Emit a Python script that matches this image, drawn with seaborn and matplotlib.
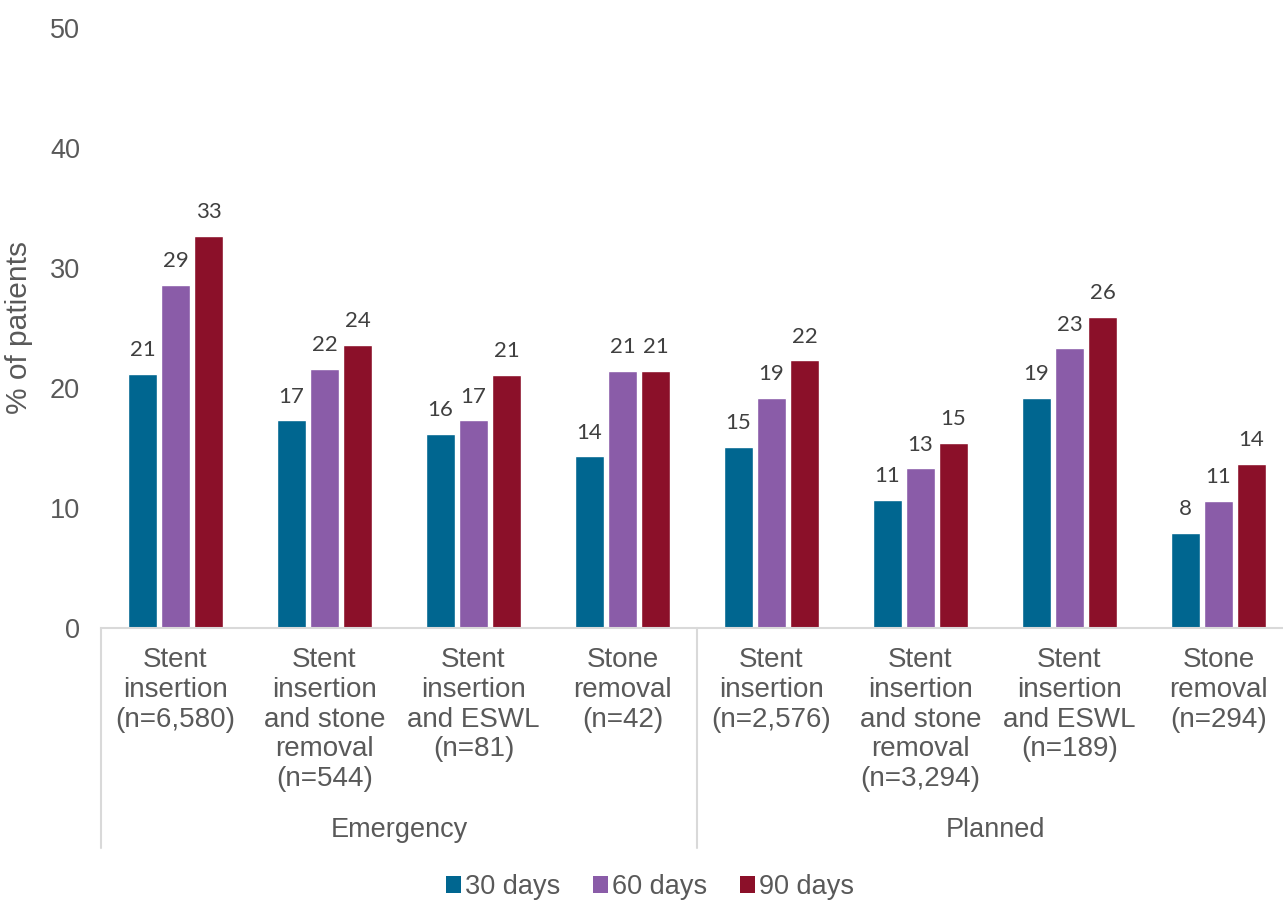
import matplotlib
matplotlib.use("Agg")
import matplotlib.pyplot as plt
import seaborn as sns
import pandas as pd
from matplotlib.patches import Patch

categories = [
    "Stent\ninsertion\n(n=6,580)",
    "Stent\ninsertion\nand stone\nremoval\n(n=544)",
    "Stent\ninsertion\nand ESWL\n(n=81)",
    "Stone\nremoval\n(n=42)",
    "Stent\ninsertion\n(n=2,576)",
    "Stent\ninsertion\nand stone\nremoval\n(n=3,294)",
    "Stent\ninsertion\nand ESWL\n(n=189)",
    "Stone\nremoval\n(n=294)",
]
groups = ["Emergency", "Planned"]
series = ["30 days", "60 days", "90 days"]
d30 = [21.2, 17.3, 16.2, 14.3, 15.1, 10.7, 19.2, 7.9]
d60 = [28.6, 21.6, 17.3, 21.4, 19.2, 13.3, 23.3, 10.6]
d90 = [32.7, 23.6, 21.1, 21.4, 22.3, 15.4, 25.9, 13.7]
colors = ["#006690", "#8A5CA8", "#8B1029"]

rows = []
for s, vals in zip(series, [d30, d60, d90]):
    for i, v in enumerate(vals):
        rows.append({"cat": f"{i}", "series": s, "value": v})
df = pd.DataFrame(rows)

sns.set_theme(style="white")
plt.rcParams["font.family"] = ["Liberation Sans", "DejaVu Sans"]
gray = "#595959"
line_gray = "#D9D9D9"

fig = plt.figure(figsize=(12.83, 9.0), dpi=100)
ax = fig.add_axes([101 / 1283, 272 / 900, 1192 / 1283, 600 / 900])

sns.barplot(data=df, x="cat", y="value", hue="series", hue_order=series,
            palette=colors, width=0.665, gap=0.15, ax=ax, saturation=1,
            errorbar=None, legend=True)

for cont in ax.containers:
    ax.bar_label(cont, labels=[f"{v:.0f}" for v in cont.datavalues],
                 padding=10, fontsize=16, color="#404040", family="Lato")

ax.set_ylim(0, 50)
ax.set_xlim(-0.5, 7.5)
ax.set_yticks(range(0, 51, 10))
ax.set_xticks(range(len(categories)))
ax.set_xticklabels(categories, linespacing=1.18)
ax.tick_params(axis="y", length=0, pad=15, labelsize=19.5, labelcolor=gray)
ax.tick_params(axis="x", length=0, pad=14, labelsize=20, labelcolor=gray)
ax.set_xlabel("")
ax.set_ylabel("% of patients", fontsize=21.5, color=gray)
ax.yaxis.set_label_coords(-0.057, 0.5)

for sp in ["top", "right", "left"]:
    ax.spines[sp].set_visible(False)
ax.spines["bottom"].set_color(line_gray)
ax.spines["bottom"].set_linewidth(1.5)

for x in [-0.5, 3.5, 7.5]:
    ax.plot([x, x], [0, -18.3], color=line_gray, lw=1.5, clip_on=False)
for gi, g in enumerate(groups):
    ax.text(1.5 + 4 * gi, -16.8, g, ha="center", va="center",
            fontsize=19.5, color=gray, clip_on=False)

leg = ax.get_legend()
if leg is not None:
    leg.remove()
handles = [Patch(facecolor=c, edgecolor="none") for c in colors]
fig.legend(handles, series, loc="center", bbox_to_anchor=(650 / 1283, 1 - 887 / 900),
           ncol=3, frameon=False, fontsize=19.5, handlelength=0.55, handleheight=0.55,
           handletextpad=0.15, columnspacing=1.2, labelcolor=gray)

fig.savefig("out.png", dpi=100)
